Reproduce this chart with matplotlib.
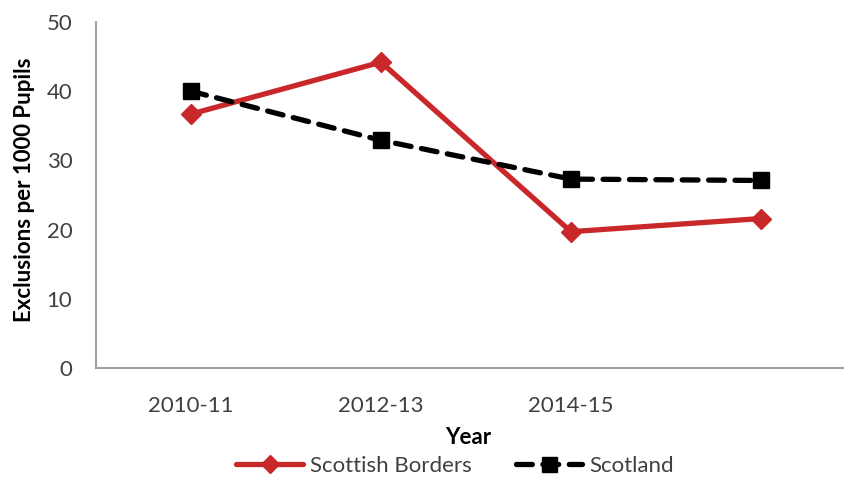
import matplotlib
matplotlib.use("Agg")
import matplotlib.pyplot as plt

categories = ["2010-11", "2012-13", "2014-15", ""]
borders = [36.7, 44.2, 19.7, 21.6]
scotland = [40.0, 32.9, 27.3, 27.1]

plt.rcParams['font.family'] = ['Lato', 'DejaVu Sans']

fig = plt.figure(figsize=(8.44, 4.79), dpi=100)
ax = fig.add_axes([96/844, 1-368/479, 760/844, 346/479])
x = list(range(len(categories)))
ax.plot(x, borders, color='#c8282a', lw=3.8, marker='D', ms=10, label='Scottish Borders',
        solid_capstyle='round')
ax.plot(x, scotland, color='black', lw=3.8, ls=(0, (3, 2)), marker='s', ms=12,
        dash_capstyle='round', label='Scotland')
ax.set_xlim(-0.5, 3.5)
ax.set_ylim(0, 50)
ax.set_yticks([0, 10, 20, 30, 40, 50])
ax.set_xticks(x)
ax.set_xticklabels(categories)
for s in ['top', 'right']:
    ax.spines[s].set_visible(False)
for s in ['left', 'bottom']:
    ax.spines[s].set_color('#a0a0a0')
    ax.spines[s].set_linewidth(1.5)
ax.tick_params(axis='both', length=0, labelsize=16, labelcolor='#404040')
ax.tick_params(axis='y', pad=17)
ax.tick_params(axis='x', pad=20)
fig.text(25/844, 1-190/479, 'Exclusions per 1000 Pupils', rotation=90, ha='center', va='center',
         fontsize=16, fontweight='bold', color='black')
fig.text(468/844, 1-438/479, 'Year', ha='center', va='center', fontsize=16, fontweight='bold')
leg = fig.legend(loc='center', bbox_to_anchor=(455/844, 1-466/479), ncol=2, frameon=False,
                 fontsize=16, handlelength=3.0, handletextpad=0.3, columnspacing=2.0,
                 markerscale=0.9, labelcolor='#404040')
fig.savefig('out.png', dpi=100)
